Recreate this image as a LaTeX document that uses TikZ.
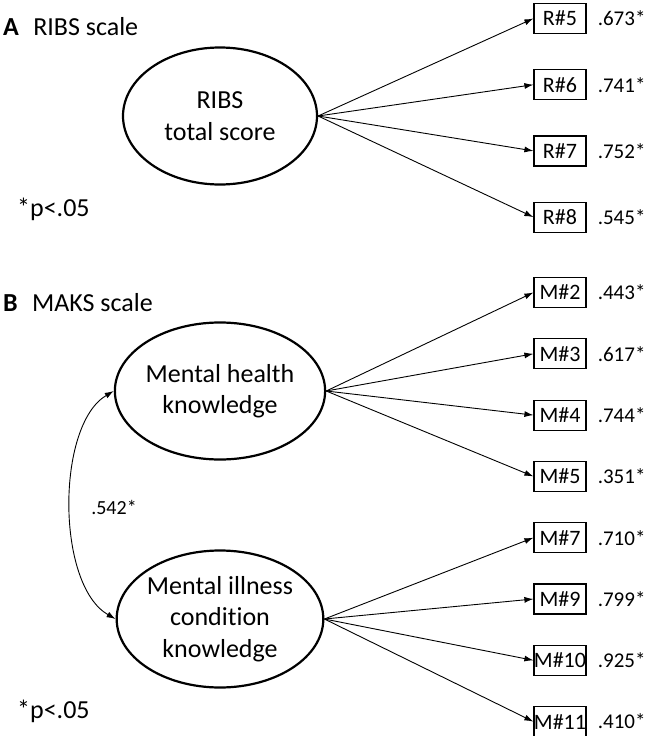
\documentclass[tikz,border=0pt]{standalone}
\usepackage{fontspec}
\setmainfont{Carlito}[Ligatures=NoCommon]
\usetikzlibrary{positioning}
\usetikzlibrary{arrows.meta}
\usetikzlibrary{shapes}

\begin{document}
\begin{tikzpicture}[
    x=1pt, y=-1pt,
    lat/.style={draw, ellipse, line width=2.2pt, minimum width=194pt, minimum height=137pt, inner sep=0, align=center, font=\fontsize{26}{31.5}\selectfont},
    ind/.style={draw, line width=1.2pt, minimum width=52pt, minimum height=30pt, inner sep=0, font=\fontsize{22}{26}\selectfont},
    load/.style={inner sep=0, font=\fontsize{21}{25}\selectfont},
    hdr/.style={anchor=west, inner sep=0, font=\fontsize{26}{31}\selectfont},
    dedge/.style={-{Latex[length=9pt,width=6pt]}, line width=0.9pt, draw=black}
]
\useasboundingbox (0,0) rectangle (645,736);

% RIBS scale
\node[hdr] (ahdr) at (3,27) {\textbf{A}\hspace{0.55em}RIBS scale};
\node[lat] (ribs) at (220,116) {RIBS\\total score};
\node[ind] (r5) at (560,18.5) {R\#5};
\node[ind, below=35pt of r5] (r6) {R\#6};
\node[ind, below=35pt of r6] (r7) {R\#7};
\node[ind, below=35pt of r7] (r8) {R\#8};
\node[load, right=11pt of r5] (lr5) {.673*};
\node[load, right=11pt of r6] (lr6) {.741*};
\node[load, right=11pt of r7] (lr7) {.752*};
\node[load, right=11pt of r8] (lr8) {.545*};
\foreach \b in {r5,r6,r7,r8}
    \draw[dedge] (ribs.east) -- (\b.west);
\node[hdr] (asig) at (17,209) {*p<.05};

% MAKS scale
\node[hdr] (bhdr) at (3,303) {\textbf{B}\hspace{0.55em}MAKS scale};
\node[lat] (mh) at (220,391) {Mental health\\knowledge};
\node[lat] (mi) at (220,619) {Mental illness\\condition\\knowledge};
\node[ind] (m2) at (560,292.5) {M\#2};
\node[ind, below=30.1pt of m2] (m3) {M\#3};
\node[ind, below=30.1pt of m3] (m4) {M\#4};
\node[ind, below=30.1pt of m4] (m5) {M\#5};
\node[ind, below=30.1pt of m5] (m7) {M\#7};
\node[ind, below=30.1pt of m7] (m9) {M\#9};
\node[ind, below=30.1pt of m9] (m10) {M\#10};
\node[ind, below=30.1pt of m10] (m11) {M\#11};
\node[load, right=11pt of m2] (lm2) {.443*};
\node[load, right=11pt of m3] (lm3) {.617*};
\node[load, right=11pt of m4] (lm4) {.744*};
\node[load, right=11pt of m5] (lm5) {.351*};
\node[load, right=11pt of m7] (lm7) {.710*};
\node[load, right=11pt of m9] (lm9) {.799*};
\node[load, right=11pt of m10] (lm10) {.925*};
\node[load, right=11pt of m11] (lm11) {.410*};
\foreach \b in {m2,m3,m4,m5}
    \draw[dedge] (mh.east) -- (\b.west);
\foreach \b in {m7,m9,m10,m11}
    \draw[dedge] (mi.east) -- (\b.west);
\draw[dedge, {Latex[length=9pt,width=6pt]}-{Latex[length=9pt,width=6pt]}]
    (mh.west) .. controls (56,425) and (56,585) .. (mi.west);
\node[load, font=\fontsize{20}{24}\selectfont] (cor) at (114,507) {.542*};
\node[hdr] (bsig) at (17,711) {*p<.05};

\end{tikzpicture}
\end{document}
